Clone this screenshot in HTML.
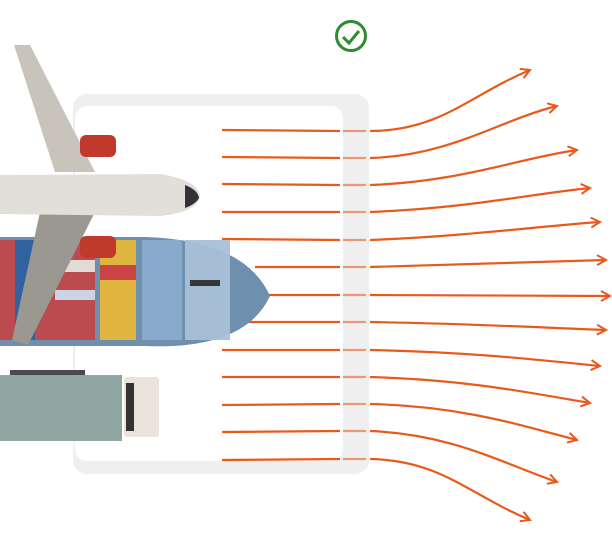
<!DOCTYPE html>
<html><head><meta charset="utf-8"><style>
html,body{margin:0;padding:0;background:#fff;}
svg{display:block}
</style></head><body>
<svg width="612" height="547" viewBox="0 0 612 547" xmlns="http://www.w3.org/2000/svg">
<defs>
<marker id="ah" markerWidth="12" markerHeight="12" refX="10" refY="6" orient="auto" markerUnits="userSpaceOnUse">
<path d="M1,1 L10,6 L1,11" fill="none" stroke="#e85a1c" stroke-width="2"/>
</marker>
</defs>
<!-- frame -->
<rect x="73" y="94" width="296" height="380" rx="14" fill="#efefef"/>
<rect x="75" y="106" width="268" height="355" rx="12" fill="#fff"/>
<!-- check -->
<circle cx="351" cy="36" r="14.5" fill="none" stroke="#2e8b2e" stroke-width="3"/>
<path d="M343,37 L349,43 L359,31" fill="none" stroke="#2e8b2e" stroke-width="3"/>
<!-- lines -->
<g fill="none" stroke="#e85a1c" stroke-width="2.2">
<path d="M222,130 L340,131"/><path d="M222,157 L340,158"/><path d="M222,184 L340,185"/>
<path d="M222,212 L340,212"/><path d="M222,239 L340,240"/><path d="M255,267 L340,267"/>
<path d="M268,295 L340,295"/><path d="M245,322 L340,322"/><path d="M222,350 L340,350"/>
<path d="M222,377 L340,377"/><path d="M222,405 L340,404"/><path d="M222,432 L340,431"/>
<path d="M222,460 L340,459"/>
</g>
<g fill="none" stroke="#e89a78" stroke-width="2.2">
<path d="M343,131 L366,131"/><path d="M343,158 L366,158"/><path d="M343,185 L366,185"/>
<path d="M343,212 L366,212"/><path d="M343,240 L366,240"/><path d="M343,267 L366,267"/>
<path d="M343,295 L366,295"/><path d="M343,322 L366,322"/><path d="M343,350 L366,350"/>
<path d="M343,377 L366,377"/><path d="M343,404 L366,404"/><path d="M343,431 L366,431"/>
<path d="M343,459 L366,459"/>
</g>
<g fill="none" stroke="#e85a1c" stroke-width="2.2" marker-end="url(#ah)">
<path d="M370,131 C440,131 470,95 530,70"/>
<path d="M370,158 C450,156 500,120 557,106"/>
<path d="M370,185 C460,182 520,158 577,150"/>
<path d="M370,212 C470,208 530,194 590,188"/>
<path d="M370,240 C470,236 540,226 600,222"/>
<path d="M370,267 C480,264 550,261 606,260"/>
<path d="M370,295 L610,296"/>
<path d="M370,322 C480,324 550,328 606,330"/>
<path d="M370,350 C470,352 540,360 600,366"/>
<path d="M370,377 C470,380 530,393 590,403"/>
<path d="M370,404 C460,406 520,425 577,440"/>
<path d="M370,431 C450,434 500,462 557,482"/>
<path d="M370,459 C440,460 470,495 530,520"/>
</g>
<!-- ship -->
<path d="M0,237 L145,237 Q245,240 270,296 Q245,350 145,346 L0,346 Z" fill="#6f8fae"/>
<g opacity="0.95">
<rect x="0" y="240" width="95" height="100" fill="#c0484a"/>
<rect x="15" y="240" width="20" height="100" fill="#2f5fa0"/>
<rect x="55" y="260" width="40" height="12" fill="#e8e0d6"/>
<rect x="55" y="290" width="40" height="10" fill="#d0d8e8"/>
<rect x="100" y="240" width="36" height="100" fill="#e6b63a"/>
<rect x="100" y="265" width="36" height="15" fill="#d04040"/>
<rect x="142" y="240" width="40" height="100" fill="#8aaccc"/>
<rect x="185" y="240" width="45" height="100" fill="#a8c0d8"/>
<rect x="190" y="280" width="30" height="6" fill="#333"/>
</g>
<!-- truck -->
<rect x="0" y="375" width="122" height="66" fill="#8fa6a3"/>
<rect x="10" y="370" width="75" height="5" fill="#4a4a4a"/>
<rect x="124" y="377" width="35" height="60" rx="3" fill="#e8e4da"/>
<rect x="126" y="383" width="8" height="48" fill="#333"/>
<!-- plane -->
<path d="M14,45 L30,45 L95,172 L55,172 Z" fill="#c8c4bc"/>
<path d="M40,212 L95,212 L28,345 L12,340 Z" fill="#9a9890"/>
<rect x="80" y="135" width="36" height="22" rx="6" fill="#c0392b"/>
<rect x="80" y="236" width="36" height="22" rx="6" fill="#c0392b"/>
<path d="M0,175 L160,174 Q198,180 200,196 Q198,212 160,216 L0,214 Z" fill="#e2dfd8"/>
<path d="M185,185 Q198,190 199,198 Q196,204 185,208 Z" fill="#333"/>
</svg>
</body></html>
